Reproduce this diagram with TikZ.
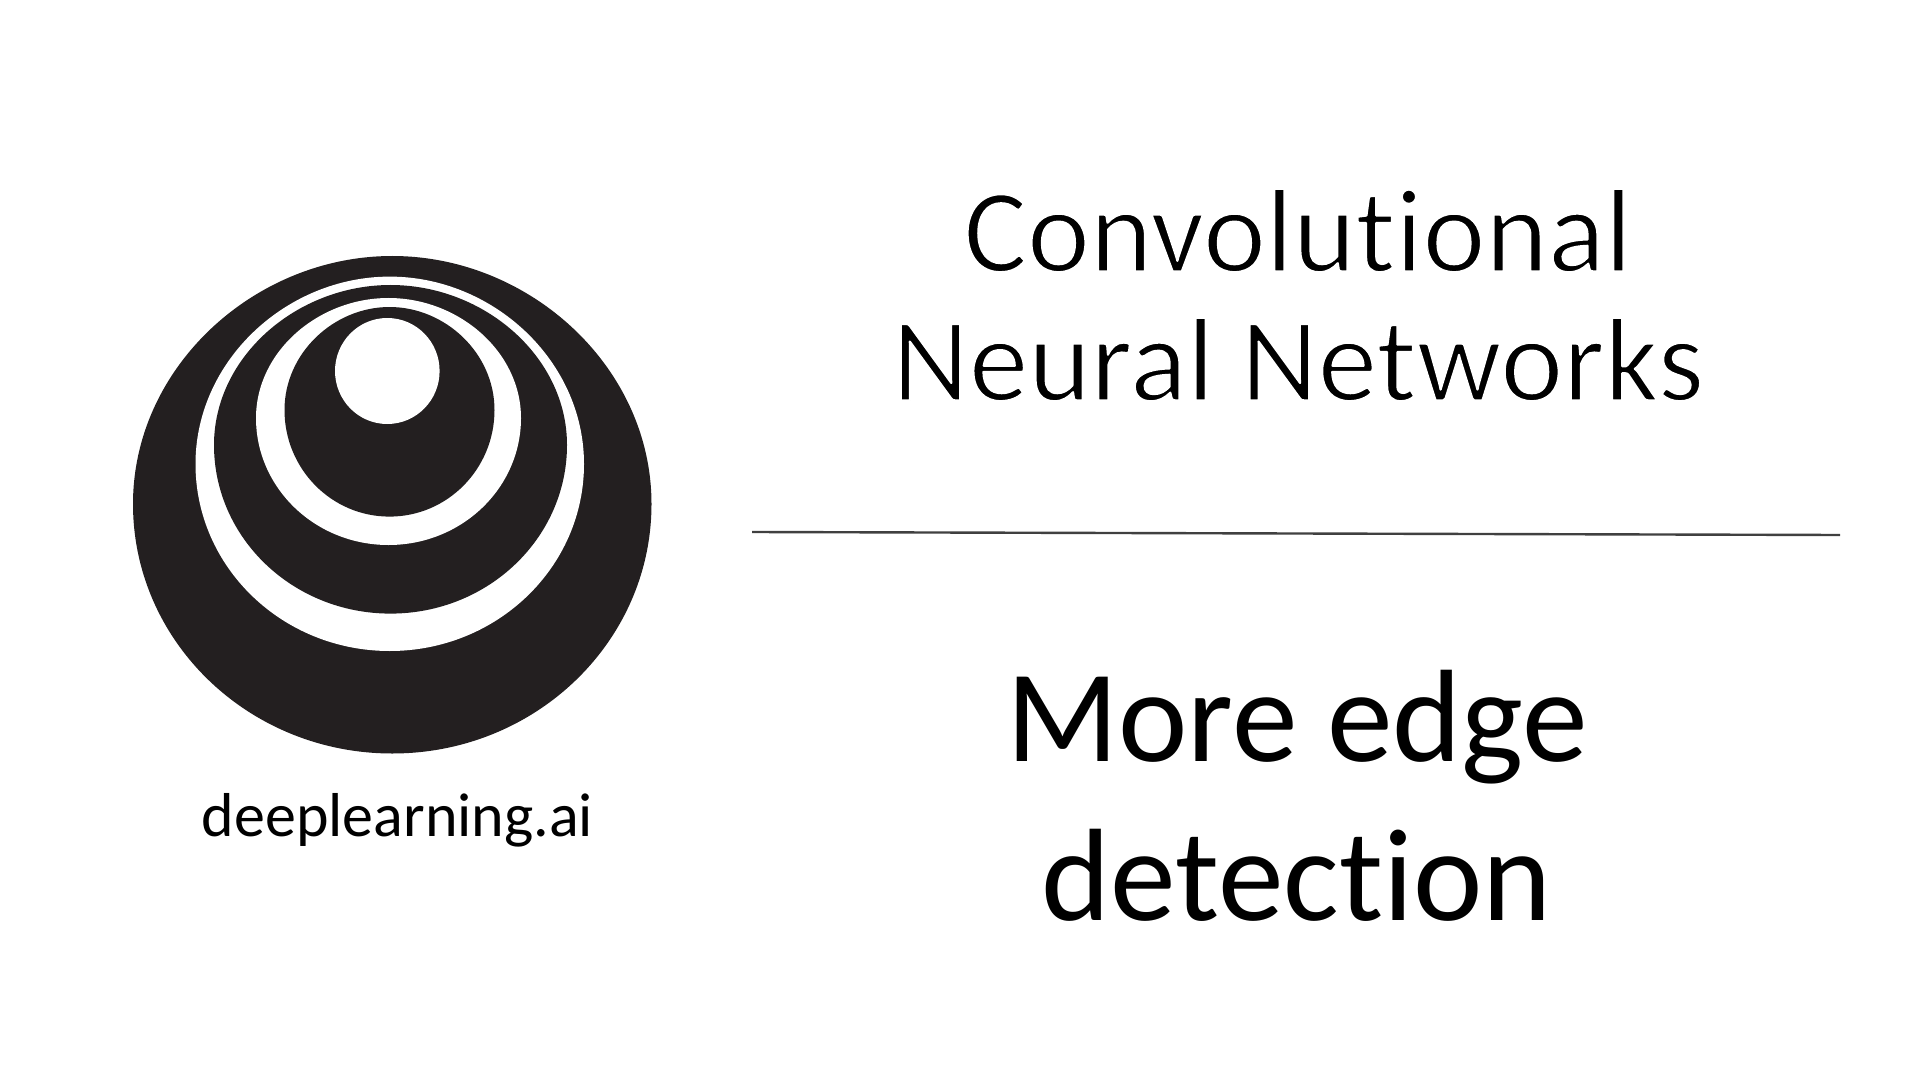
\documentclass[tikz,border=0pt]{standalone}
\usepackage{fontspec}
\setmainfont{Carlito}[RawFeature={-liga;-clig}]
\definecolor{logoblack}{HTML}{231F20}
\newcommand{\thintext}[1]{\special{pdf:code q 2 Tr 1 1 1 RG 2.2 w 1 j}#1\special{pdf:code 0 Tr Q}}
\newcommand{\eggshape}[6]{% colour, left, right, top, bottom, widest y
  \pgfmathsetmacro{\eggc}{(#2+#3)/2}
  \pgfmathsetmacro{\eggk}{0.5523*(#3-#2)/2}
  \pgfmathsetmacro{\eggt}{0.53*(#3-#2)/2}
  \pgfmathsetmacro{\eggu}{0.5523*(#6-#4)}
  \pgfmathsetmacro{\eggd}{0.5523*(#5-#6)}
  \fill[#1] (\eggc,#4)
    .. controls (\eggc+\eggt,#4) and (#3,#6-\eggu) .. (#3,#6)
    .. controls (#3,#6+\eggd) and (\eggc+\eggk,#5) .. (\eggc,#5)
    .. controls (\eggc-\eggk,#5) and (#2,#6+\eggd) .. (#2,#6)
    .. controls (#2,#6-\eggu) and (\eggc-\eggt,#4) .. (\eggc,#4) -- cycle;
}
\tikzset{
  blk/.style={fill=logoblack,draw=none},
  wht/.style={fill=white,draw=none},
  title/.style={inner sep=0pt,align=center,text=black,font=\fontsize{119}{129}\selectfont},
  sub/.style={inner sep=0pt,align=center,text=black,font=\fontsize{131.5}{159}\selectfont},
  brand/.style={inner sep=0pt,text=black,font=\fontsize{62}{70}\selectfont}
}
\begin{document}
\begin{tikzpicture}[x=1pt,y=-1pt]
\useasboundingbox (0,0) rectangle (1911,1075);
\fill[white] (0,0) rectangle (1911,1075);
\eggshape{blk}{133}{651.5}{256}{753.5}{504}
\eggshape{wht}{195.5}{584}{276.6}{651}{464}
\eggshape{blk}{214}{567}{285}{613.6}{445}
\eggshape{wht}{256}{521}{298}{545}{418}
\eggshape{blk}{284.5}{494.5}{307}{516.6}{410}
\fill[wht] (387.3,371) ellipse [x radius=52.3,y radius=53];
\node[brand] (brand) at (397.5,820) {deeplearning.ai};
\coordinate (ruleL) at (752,532);
\coordinate (ruleR) at (1840,535);
\draw[draw=black!75,line width=2.4pt] (ruleL) -- (ruleR);
\node[sub] (subtitle) at (1297,796) {More edge\\detection};
\node[title] (title) at (1298,295) {\thintext{Convolutional}\\\thintext{Neural Networks}};
\end{tikzpicture}
\end{document}
